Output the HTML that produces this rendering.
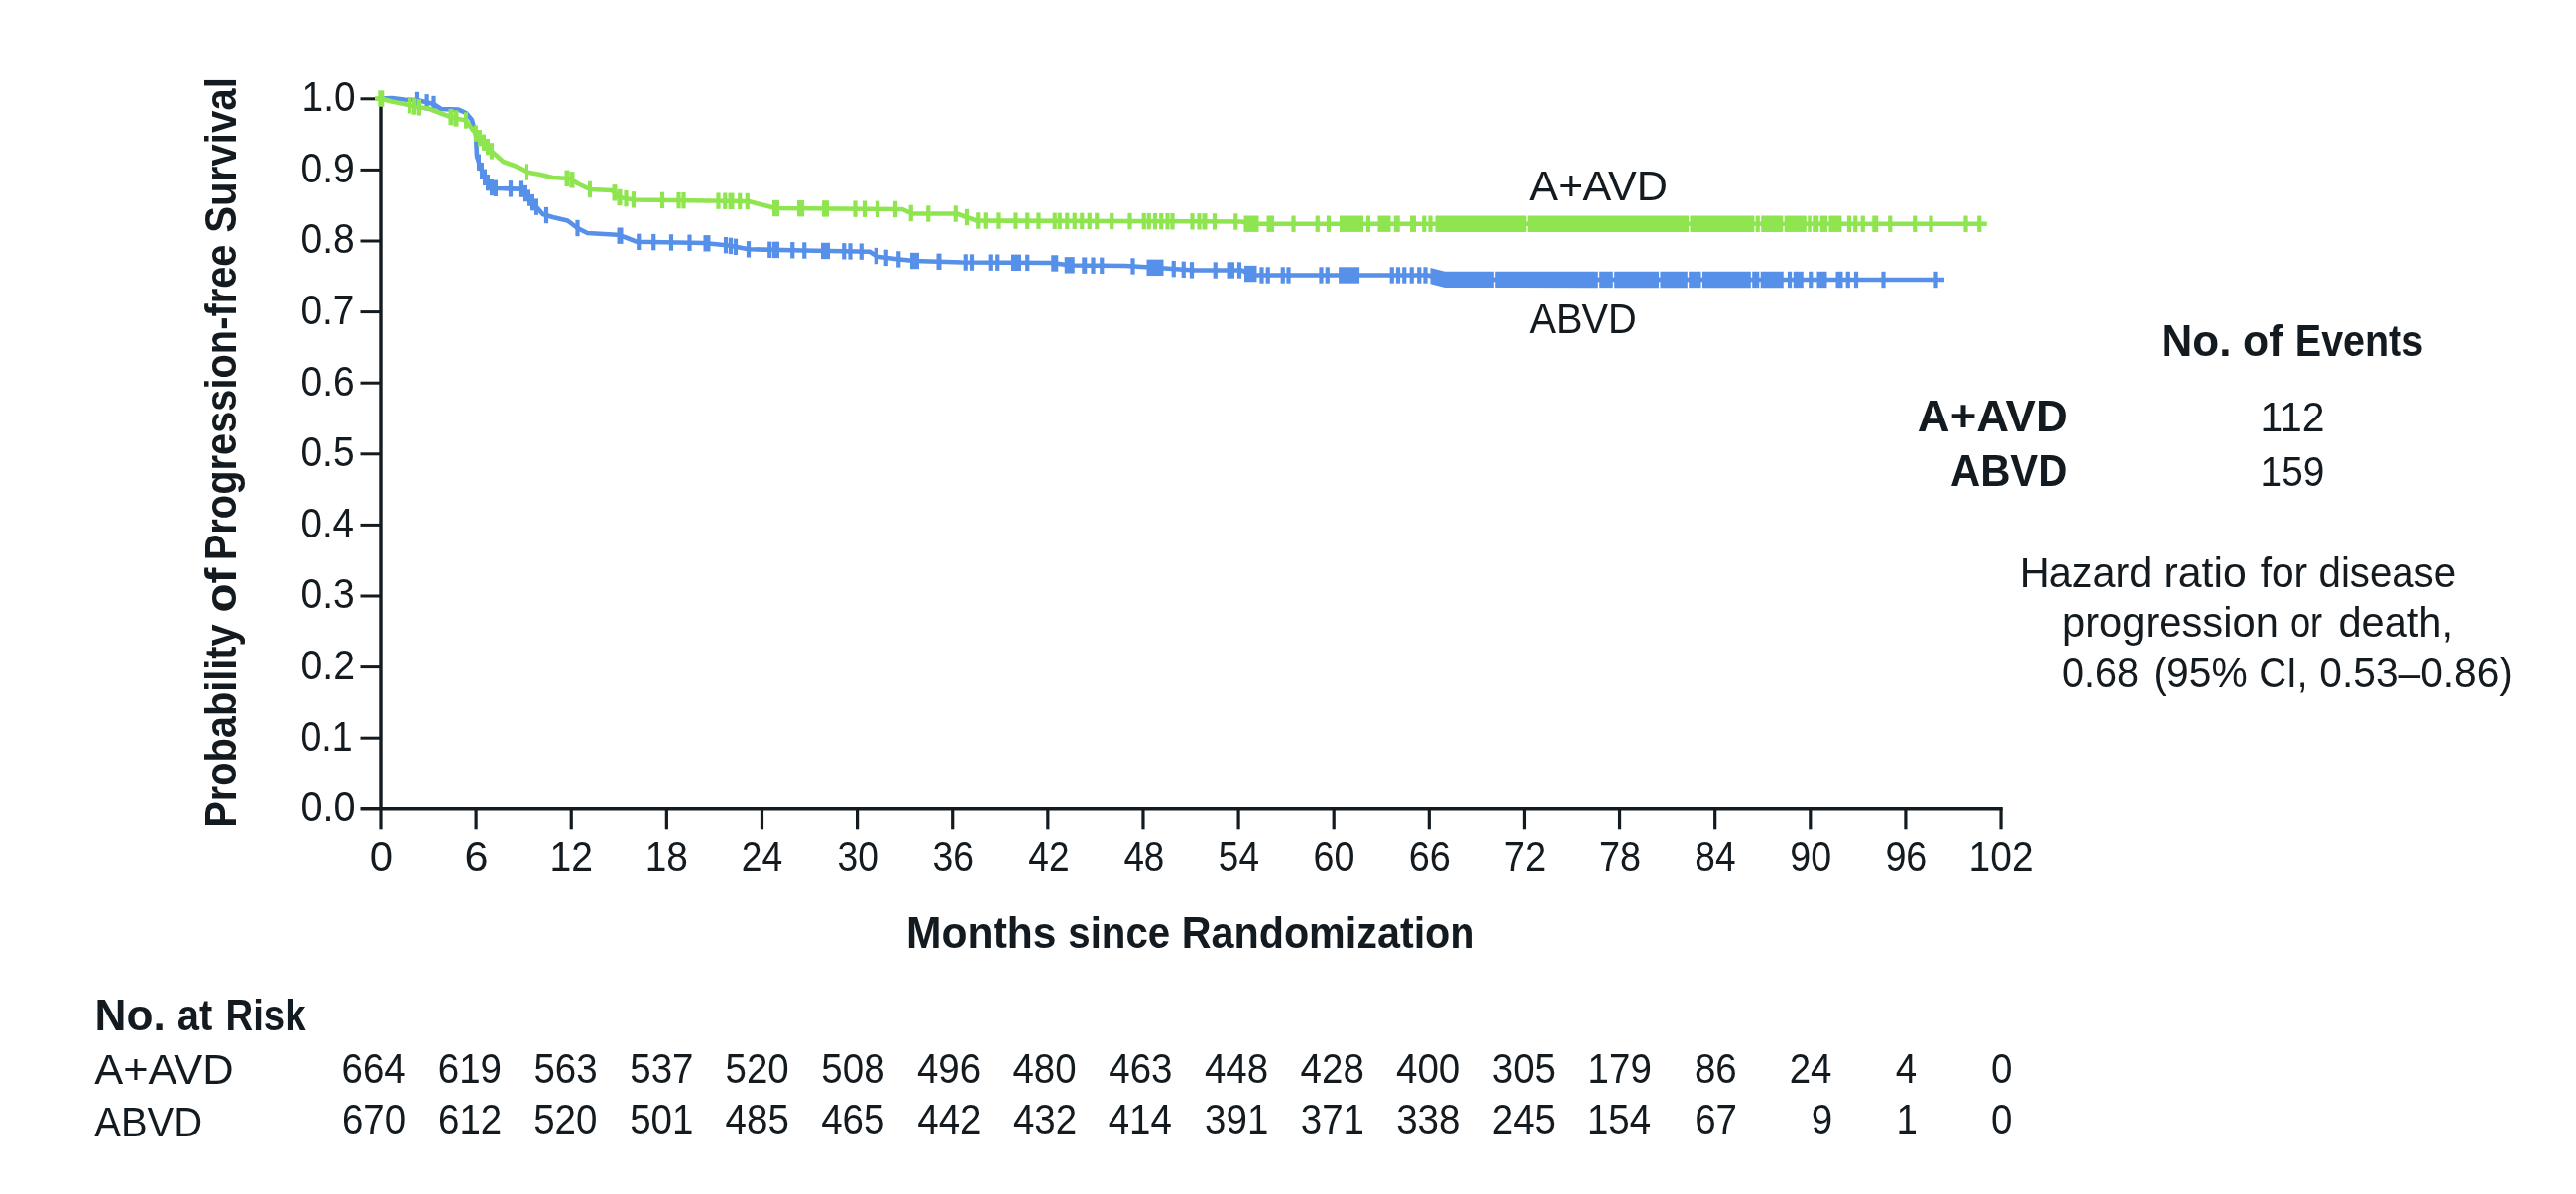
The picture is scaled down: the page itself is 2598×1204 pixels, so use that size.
<!DOCTYPE html>
<html lang="en">
<head>
<meta charset="utf-8">
<title>Progression-free Survival</title>
<style>
html,body{margin:0;padding:0;background:#fff;}
body{width:2598px;height:1204px;overflow:hidden;}
svg{display:block;filter:blur(0.6px);}
svg text{font-family:"Liberation Sans",sans-serif;fill:#131b20;}
</style>
</head>
<body>
<svg width="2598" height="1204" viewBox="0 0 2598 1204">
<rect width="2598" height="1204" fill="#ffffff"/>
<g stroke="#131b20" stroke-width="3.4" fill="none" stroke-linecap="butt">
<path d="M384.0,98.29999999999995 V815.8"/>
<path d="M363.5,815.8 H2019.74"/>
<path d="M363.5,744.20 H384.0" stroke-width="3.0"/>
<path d="M363.5,672.60 H384.0" stroke-width="3.0"/>
<path d="M363.5,601.00 H384.0" stroke-width="3.0"/>
<path d="M363.5,529.40 H384.0" stroke-width="3.0"/>
<path d="M363.5,457.80 H384.0" stroke-width="3.0"/>
<path d="M363.5,386.20 H384.0" stroke-width="3.0"/>
<path d="M363.5,314.60 H384.0" stroke-width="3.0"/>
<path d="M363.5,243.00 H384.0" stroke-width="3.0"/>
<path d="M363.5,171.40 H384.0" stroke-width="3.0"/>
<path d="M363.5,99.80 H384.0" stroke-width="3.0"/>
<path d="M384.00,815.8 V836.3" stroke-width="3.2"/>
<path d="M480.12,815.8 V836.3" stroke-width="3.2"/>
<path d="M576.24,815.8 V836.3" stroke-width="3.2"/>
<path d="M672.36,815.8 V836.3" stroke-width="3.2"/>
<path d="M768.48,815.8 V836.3" stroke-width="3.2"/>
<path d="M864.60,815.8 V836.3" stroke-width="3.2"/>
<path d="M960.72,815.8 V836.3" stroke-width="3.2"/>
<path d="M1056.84,815.8 V836.3" stroke-width="3.2"/>
<path d="M1152.96,815.8 V836.3" stroke-width="3.2"/>
<path d="M1249.08,815.8 V836.3" stroke-width="3.2"/>
<path d="M1345.20,815.8 V836.3" stroke-width="3.2"/>
<path d="M1441.32,815.8 V836.3" stroke-width="3.2"/>
<path d="M1537.44,815.8 V836.3" stroke-width="3.2"/>
<path d="M1633.56,815.8 V836.3" stroke-width="3.2"/>
<path d="M1729.68,815.8 V836.3" stroke-width="3.2"/>
<path d="M1825.80,815.8 V836.3" stroke-width="3.2"/>
<path d="M1921.92,815.8 V836.3" stroke-width="3.2"/>
<path d="M2018.04,815.8 V836.3" stroke-width="3.2"/>
</g>
<text x="303.42" y="828.10" font-size="42" textLength="55.08" lengthAdjust="spacingAndGlyphs">0.0</text>
<text x="303.50" y="756.50" font-size="42" textLength="52.09" lengthAdjust="spacingAndGlyphs">0.1</text>
<text x="303.43" y="684.90" font-size="42" textLength="54.54" lengthAdjust="spacingAndGlyphs">0.2</text>
<text x="303.44" y="613.30" font-size="42" textLength="54.23" lengthAdjust="spacingAndGlyphs">0.3</text>
<text x="303.46" y="541.70" font-size="42" textLength="53.61" lengthAdjust="spacingAndGlyphs">0.4</text>
<text x="303.44" y="470.10" font-size="42" textLength="54.12" lengthAdjust="spacingAndGlyphs">0.5</text>
<text x="303.44" y="398.50" font-size="42" textLength="54.23" lengthAdjust="spacingAndGlyphs">0.6</text>
<text x="303.45" y="326.90" font-size="42" textLength="54.00" lengthAdjust="spacingAndGlyphs">0.7</text>
<text x="303.44" y="255.30" font-size="42" textLength="54.23" lengthAdjust="spacingAndGlyphs">0.8</text>
<text x="303.44" y="183.70" font-size="42" textLength="54.33" lengthAdjust="spacingAndGlyphs">0.9</text>
<text x="304.59" y="112.10" font-size="42" textLength="53.87" lengthAdjust="spacingAndGlyphs">1.0</text>
<text x="372.82" y="878.30" font-size="42" textLength="23.30" lengthAdjust="spacingAndGlyphs">0</text>
<text x="468.46" y="878.30" font-size="42" textLength="24.05" lengthAdjust="spacingAndGlyphs">6</text>
<text x="554.56" y="878.30" font-size="42" textLength="43.48" lengthAdjust="spacingAndGlyphs">12</text>
<text x="650.70" y="878.30" font-size="42" textLength="43.15" lengthAdjust="spacingAndGlyphs">18</text>
<text x="747.87" y="878.30" font-size="42" textLength="41.48" lengthAdjust="spacingAndGlyphs">24</text>
<text x="844.46" y="878.30" font-size="42" textLength="41.38" lengthAdjust="spacingAndGlyphs">30</text>
<text x="940.57" y="878.30" font-size="42" textLength="41.58" lengthAdjust="spacingAndGlyphs">36</text>
<text x="1037.26" y="878.30" font-size="42" textLength="41.28" lengthAdjust="spacingAndGlyphs">42</text>
<text x="1133.38" y="878.30" font-size="42" textLength="40.98" lengthAdjust="spacingAndGlyphs">48</text>
<text x="1228.85" y="878.30" font-size="42" textLength="41.08" lengthAdjust="spacingAndGlyphs">54</text>
<text x="1324.57" y="878.30" font-size="42" textLength="41.88" lengthAdjust="spacingAndGlyphs">60</text>
<text x="1420.68" y="878.30" font-size="42" textLength="42.09" lengthAdjust="spacingAndGlyphs">66</text>
<text x="1516.78" y="878.30" font-size="42" textLength="42.40" lengthAdjust="spacingAndGlyphs">72</text>
<text x="1612.92" y="878.30" font-size="42" textLength="42.09" lengthAdjust="spacingAndGlyphs">78</text>
<text x="1709.36" y="878.30" font-size="42" textLength="41.18" lengthAdjust="spacingAndGlyphs">84</text>
<text x="1805.27" y="878.30" font-size="42" textLength="41.78" lengthAdjust="spacingAndGlyphs">90</text>
<text x="1901.38" y="878.30" font-size="42" textLength="41.99" lengthAdjust="spacingAndGlyphs">96</text>
<text x="1985.62" y="878.30" font-size="42" textLength="64.90" lengthAdjust="spacingAndGlyphs">102</text>
<text y="956.30" font-size="44" font-weight="700"><tspan x="914.12" textLength="151.43" lengthAdjust="spacingAndGlyphs">Months</tspan> <tspan x="1077.34" textLength="102.80" lengthAdjust="spacingAndGlyphs">since</tspan> <tspan x="1191.71" textLength="295.83" lengthAdjust="spacingAndGlyphs">Randomization</tspan></text>
<text y="0.00" font-size="44" font-weight="700" transform="translate(238.0,832) rotate(-90)"><tspan x="-2.68" textLength="205.39" lengthAdjust="spacingAndGlyphs">Probability</tspan> <tspan x="214.40" textLength="44.95" lengthAdjust="spacingAndGlyphs">of</tspan> <tspan x="266.81" textLength="318.69" lengthAdjust="spacingAndGlyphs">Progression-free</tspan> <tspan x="597.29" textLength="156.57" lengthAdjust="spacingAndGlyphs">Survival</tspan></text>
<path d="M384.0,99.5 L395.0,99.0 L407.5,100.5 L421.0,101.0 L437.5,105.0 L445.0,110.0 L462.5,110.6 L470.0,114.0 L476.0,121.0 L480.0,136.0 L481.0,157.5 L485.0,170.0 L490.0,181.0 L495.0,188.8 L501.0,190.0 L525.0,190.6 L532.5,199.0 L540.0,207.5 L547.5,216.0 L557.5,219.0 L572.5,222.5 L582.5,230.0 L592.5,235.0 L622.5,236.8 L630.0,239.0 L642.5,243.8 L710.0,245.0 L735.0,247.5 L755.0,251.3 L810.0,252.5 L877.0,253.8 L885.0,258.8 L905.0,261.3 L922.0,263.0 L970.0,264.5 L1060.0,265.0 L1080.0,267.5 L1135.0,268.0 L1160.0,269.5 L1204.0,272.5 L1252.0,272.5 L1265.0,277.5 L1440.0,277.5 L1457.0,281.9 L1961.0,282.0" fill="none" stroke="#5690e8" stroke-width="4.6" stroke-linejoin="round" stroke-linecap="butt"/>
<g fill="#5690e8"><rect x="418.90" y="92.80" width="4.20" height="16.4"/><rect x="428.50" y="95.13" width="4.20" height="16.4"/><rect x="435.40" y="96.80" width="4.20" height="16.4"/><rect x="478.00" y="127.80" width="4.00" height="16.4"/><rect x="481.00" y="155.55" width="4.00" height="16.4"/><rect x="484.00" y="164.00" width="4.00" height="16.4"/><rect x="487.00" y="170.60" width="4.00" height="16.4"/><rect x="490.00" y="175.92" width="4.00" height="16.4"/><rect x="494.00" y="180.80" width="4.00" height="16.4"/><rect x="498.00" y="181.60" width="4.00" height="16.4"/><rect x="512.90" y="182.15" width="4.20" height="16.4"/><rect x="522.90" y="182.40" width="4.20" height="16.4"/><rect x="527.00" y="186.88" width="4.00" height="16.4"/><rect x="531.00" y="191.37" width="4.00" height="16.4"/><rect x="535.00" y="195.90" width="4.00" height="16.4"/><rect x="539.00" y="200.43" width="4.00" height="16.4"/><rect x="548.90" y="208.85" width="4.20" height="16.4"/><rect x="580.40" y="221.80" width="4.20" height="16.4"/><rect x="622.50" y="229.48" width="6.00" height="16.4"/><rect x="642.15" y="235.63" width="4.20" height="16.4"/><rect x="657.15" y="235.90" width="4.20" height="16.4"/><rect x="674.90" y="236.21" width="4.20" height="16.4"/><rect x="693.40" y="236.54" width="4.20" height="16.4"/><rect x="709.50" y="237.10" width="7.00" height="16.4"/><rect x="729.90" y="239.00" width="4.20" height="16.4"/><rect x="734.90" y="239.68" width="4.20" height="16.4"/><rect x="739.90" y="240.63" width="4.20" height="16.4"/><rect x="752.90" y="243.10" width="4.20" height="16.4"/><rect x="774.15" y="243.56" width="4.20" height="16.4"/><rect x="779.00" y="243.70" width="7.00" height="16.4"/><rect x="797.15" y="244.07" width="4.20" height="16.4"/><rect x="809.15" y="244.32" width="4.20" height="16.4"/><rect x="828.00" y="244.74" width="9.00" height="16.4"/><rect x="849.15" y="245.10" width="4.20" height="16.4"/><rect x="855.40" y="245.22" width="4.20" height="16.4"/><rect x="866.65" y="245.44" width="4.20" height="16.4"/><rect x="881.65" y="249.82" width="4.20" height="16.4"/><rect x="891.65" y="251.69" width="4.20" height="16.4"/><rect x="904.15" y="253.23" width="4.20" height="16.4"/><rect x="918.00" y="254.82" width="9.00" height="16.4"/><rect x="944.50" y="255.58" width="5.00" height="16.4"/><rect x="971.65" y="256.32" width="4.20" height="16.4"/><rect x="977.90" y="256.36" width="4.20" height="16.4"/><rect x="996.65" y="256.46" width="4.20" height="16.4"/><rect x="1004.15" y="256.50" width="4.20" height="16.4"/><rect x="1020.00" y="256.61" width="10.00" height="16.4"/><rect x="1034.15" y="256.67" width="4.20" height="16.4"/><rect x="1060.25" y="257.27" width="7.00" height="16.4"/><rect x="1073.75" y="259.14" width="10.00" height="16.4"/><rect x="1091.25" y="259.43" width="5.00" height="16.4"/><rect x="1100.40" y="259.50" width="4.20" height="16.4"/><rect x="1109.15" y="259.58" width="4.20" height="16.4"/><rect x="1140.40" y="260.25" width="4.20" height="16.4"/><rect x="1156.50" y="261.64" width="17.00" height="16.4"/><rect x="1181.65" y="262.92" width="4.20" height="16.4"/><rect x="1191.65" y="263.60" width="4.20" height="16.4"/><rect x="1199.90" y="264.16" width="4.20" height="16.4"/><rect x="1223.65" y="264.30" width="4.20" height="16.4"/><rect x="1237.50" y="264.30" width="7.50" height="16.4"/><rect x="1247.90" y="264.30" width="4.20" height="16.4"/><rect x="1255.00" y="267.86" width="12.50" height="16.4"/><rect x="1270.40" y="269.30" width="4.20" height="16.4"/><rect x="1276.65" y="269.30" width="4.20" height="16.4"/><rect x="1291.65" y="269.30" width="4.20" height="16.4"/><rect x="1297.40" y="269.30" width="4.20" height="16.4"/><rect x="1330.40" y="269.30" width="4.20" height="16.4"/><rect x="1336.65" y="269.30" width="4.20" height="16.4"/><rect x="1350.10" y="269.30" width="21.00" height="16.4"/><rect x="1401.65" y="269.30" width="4.20" height="16.4"/><rect x="1407.90" y="269.30" width="4.20" height="16.4"/><rect x="1414.15" y="269.30" width="4.20" height="16.4"/><rect x="1421.65" y="269.30" width="4.20" height="16.4"/><rect x="1429.15" y="269.30" width="4.20" height="16.4"/><rect x="1435.40" y="269.30" width="4.20" height="16.4"/><rect x="1802.90" y="273.77" width="4.20" height="16.4"/><rect x="1808.75" y="273.77" width="10.00" height="16.4"/><rect x="1824.15" y="273.77" width="4.20" height="16.4"/><rect x="1832.50" y="273.78" width="10.00" height="16.4"/><rect x="1851.50" y="273.78" width="7.00" height="16.4"/><rect x="1861.65" y="273.78" width="4.20" height="16.4"/><rect x="1869.90" y="273.78" width="4.20" height="16.4"/><rect x="1897.40" y="273.79" width="4.20" height="16.4"/><rect x="1950.40" y="273.80" width="4.20" height="16.4"/><polygon points="1442.50,269.95 1457.00,273.70 1506.80,273.71 1506.80,290.11 1457.00,290.10 1442.50,286.35"/><polygon points="1508.20,273.71 1611.80,273.73 1611.80,290.13 1508.20,290.11"/><polygon points="1613.20,273.73 1626.80,273.73 1626.80,290.13 1613.20,290.13"/><polygon points="1628.20,273.73 1673.05,273.74 1673.05,290.14 1628.20,290.13"/><polygon points="1674.45,273.74 1701.80,273.75 1701.80,290.15 1674.45,290.14"/><polygon points="1703.20,273.75 1715.55,273.75 1715.55,290.15 1703.20,290.15"/><polygon points="1716.95,273.75 1765.80,273.76 1765.80,290.16 1716.95,290.15"/><polygon points="1767.20,273.76 1774.30,273.76 1774.30,290.16 1767.20,290.16"/><polygon points="1775.70,273.76 1798.75,273.77 1798.75,290.17 1775.70,290.16"/></g>
<path d="M384.0,99.5 L395.0,102.5 L407.5,105.0 L420.0,108.0 L432.5,109.5 L445.0,114.5 L457.5,119.0 L470.0,121.5 L476.0,130.0 L482.5,137.5 L490.0,146.0 L497.5,154.0 L507.5,163.0 L520.0,167.5 L531.0,173.5 L545.0,176.0 L557.5,179.0 L575.0,180.0 L582.5,185.0 L595.0,191.0 L617.5,192.0 L625.0,199.0 L640.0,201.5 L715.0,202.5 L755.0,203.0 L782.5,210.0 L910.0,211.0 L920.0,215.5 L965.0,215.5 L985.0,222.5 L1204.0,223.3 L1252.0,223.5 L1262.0,225.7 L2003.8,225.8" fill="none" stroke="#8fe54f" stroke-width="4.6" stroke-linejoin="round" stroke-linecap="butt"/>
<g fill="#8fe54f"><rect x="381.30" y="91.38" width="6.00" height="16.4"/><rect x="411.00" y="98.12" width="4.00" height="16.4"/><rect x="415.50" y="99.32" width="5.00" height="16.4"/><rect x="421.00" y="100.16" width="4.00" height="16.4"/><rect x="452.50" y="109.90" width="5.00" height="16.4"/><rect x="457.50" y="111.30" width="5.00" height="16.4"/><rect x="468.00" y="113.30" width="4.00" height="16.4"/><rect x="478.00" y="126.42" width="4.00" height="16.4"/><rect x="482.00" y="131.00" width="4.00" height="16.4"/><rect x="486.00" y="135.53" width="4.00" height="16.4"/><rect x="490.00" y="139.93" width="4.00" height="16.4"/><rect x="494.00" y="144.20" width="4.00" height="16.4"/><rect x="529.00" y="165.30" width="4.00" height="16.4"/><rect x="569.50" y="171.63" width="5.00" height="16.4"/><rect x="574.50" y="173.13" width="5.00" height="16.4"/><rect x="593.00" y="182.80" width="4.00" height="16.4"/><rect x="617.50" y="186.13" width="5.00" height="16.4"/><rect x="622.50" y="190.80" width="5.00" height="16.4"/><rect x="629.40" y="191.88" width="4.20" height="16.4"/><rect x="636.90" y="193.13" width="4.20" height="16.4"/><rect x="665.90" y="193.67" width="4.20" height="16.4"/><rect x="682.40" y="193.89" width="4.20" height="16.4"/><rect x="687.40" y="193.96" width="4.20" height="16.4"/><rect x="722.40" y="194.42" width="4.20" height="16.4"/><rect x="729.15" y="194.50" width="4.20" height="16.4"/><rect x="734.50" y="194.58" width="6.00" height="16.4"/><rect x="744.15" y="194.69" width="4.20" height="16.4"/><rect x="751.65" y="194.78" width="4.20" height="16.4"/><rect x="779.00" y="201.80" width="7.00" height="16.4"/><rect x="804.00" y="202.00" width="7.00" height="16.4"/><rect x="829.00" y="202.19" width="7.00" height="16.4"/><rect x="860.40" y="202.43" width="4.20" height="16.4"/><rect x="869.90" y="202.50" width="4.20" height="16.4"/><rect x="882.90" y="202.60" width="4.20" height="16.4"/><rect x="900.90" y="202.75" width="4.20" height="16.4"/><rect x="916.65" y="206.74" width="4.20" height="16.4"/><rect x="934.15" y="207.30" width="4.20" height="16.4"/><rect x="961.65" y="207.30" width="4.20" height="16.4"/><rect x="972.90" y="210.80" width="4.20" height="16.4"/><rect x="984.15" y="214.30" width="4.20" height="16.4"/><rect x="991.65" y="214.33" width="4.20" height="16.4"/><rect x="1005.40" y="214.38" width="4.20" height="16.4"/><rect x="1022.40" y="214.44" width="4.20" height="16.4"/><rect x="1034.15" y="214.49" width="4.20" height="16.4"/><rect x="1045.40" y="214.53" width="4.20" height="16.4"/><rect x="1061.65" y="214.59" width="4.20" height="16.4"/><rect x="1066.65" y="214.61" width="4.20" height="16.4"/><rect x="1074.15" y="214.63" width="4.20" height="16.4"/><rect x="1081.65" y="214.66" width="4.20" height="16.4"/><rect x="1089.15" y="214.69" width="4.20" height="16.4"/><rect x="1096.65" y="214.72" width="4.20" height="16.4"/><rect x="1104.15" y="214.74" width="4.20" height="16.4"/><rect x="1119.15" y="214.80" width="4.20" height="16.4"/><rect x="1137.40" y="214.86" width="4.20" height="16.4"/><rect x="1151.65" y="214.92" width="4.20" height="16.4"/><rect x="1156.65" y="214.93" width="4.20" height="16.4"/><rect x="1162.90" y="214.96" width="4.20" height="16.4"/><rect x="1169.15" y="214.98" width="4.20" height="16.4"/><rect x="1175.40" y="215.00" width="4.20" height="16.4"/><rect x="1180.40" y="215.02" width="4.20" height="16.4"/><rect x="1200.40" y="215.09" width="4.20" height="16.4"/><rect x="1207.40" y="215.12" width="4.20" height="16.4"/><rect x="1212.50" y="215.15" width="5.00" height="16.4"/><rect x="1222.90" y="215.19" width="4.20" height="16.4"/><rect x="1244.15" y="215.28" width="4.20" height="16.4"/><rect x="1254.50" y="217.50" width="15.00" height="16.4"/><rect x="1277.50" y="217.50" width="7.50" height="16.4"/><rect x="1302.40" y="217.50" width="4.20" height="16.4"/><rect x="1326.65" y="217.50" width="4.20" height="16.4"/><rect x="1337.90" y="217.51" width="4.20" height="16.4"/><rect x="1351.00" y="217.51" width="24.00" height="16.4"/><rect x="1377.90" y="217.51" width="4.20" height="16.4"/><rect x="1389.50" y="217.51" width="13.00" height="16.4"/><rect x="1405.75" y="217.51" width="6.00" height="16.4"/><rect x="1422.00" y="217.51" width="6.00" height="16.4"/><rect x="1434.15" y="217.51" width="4.20" height="16.4"/><rect x="1440.40" y="217.51" width="4.20" height="16.4"/><rect x="1862.90" y="217.54" width="4.20" height="16.4"/><rect x="1869.15" y="217.54" width="4.20" height="16.4"/><rect x="1876.65" y="217.54" width="4.20" height="16.4"/><rect x="1888.25" y="217.54" width="6.00" height="16.4"/><rect x="1904.15" y="217.54" width="4.20" height="16.4"/><rect x="1929.15" y="217.55" width="4.20" height="16.4"/><rect x="1945.40" y="217.55" width="4.20" height="16.4"/><rect x="1980.40" y="217.55" width="4.20" height="16.4"/><rect x="1994.15" y="217.55" width="4.20" height="16.4"/><polygon points="1447.50,217.51 1539.30,217.52 1539.30,233.92 1447.50,233.91"/><polygon points="1540.70,217.52 1703.05,217.53 1703.05,233.93 1540.70,233.92"/><polygon points="1704.45,217.53 1769.30,217.53 1769.30,233.93 1704.45,233.93"/><polygon points="1770.70,217.53 1774.80,217.53 1774.80,233.93 1770.70,233.93"/><polygon points="1776.20,217.53 1798.30,217.54 1798.30,233.94 1776.20,233.93"/><polygon points="1799.70,217.54 1821.80,217.54 1821.80,233.94 1799.70,233.94"/><polygon points="1823.20,217.54 1826.80,217.54 1826.80,233.94 1823.20,233.94"/><polygon points="1828.20,217.54 1834.30,217.54 1834.30,233.94 1828.20,233.94"/><polygon points="1835.70,217.54 1843.05,217.54 1843.05,233.94 1835.70,233.94"/><polygon points="1844.45,217.54 1857.50,217.54 1857.50,233.94 1844.45,233.94"/></g>
<rect x="378" y="97.2" width="8" height="4.8" fill="#8fe54f"/>
<text x="1542.39" y="201.80" font-size="42" textLength="139.68" lengthAdjust="spacingAndGlyphs">A+AVD</text>
<text x="1542.40" y="336.00" font-size="42" textLength="108.32" lengthAdjust="spacingAndGlyphs">ABVD</text>
<text y="359.00" font-size="44" font-weight="700"><tspan x="2179.53" textLength="70.99" lengthAdjust="spacingAndGlyphs">No.</tspan> <tspan x="2262.04" textLength="40.41" lengthAdjust="spacingAndGlyphs">of</tspan> <tspan x="2314.84" textLength="129.31" lengthAdjust="spacingAndGlyphs">Events</tspan></text>
<text x="1933.86" y="435.00" font-size="44" font-weight="700" textLength="151.85" lengthAdjust="spacingAndGlyphs">A+AVD</text>
<text x="1966.95" y="489.50" font-size="44" font-weight="700" textLength="118.51" lengthAdjust="spacingAndGlyphs">ABVD</text>
<text x="2279.43" y="435.00" font-size="42" textLength="65.18" lengthAdjust="spacingAndGlyphs">112</text>
<text x="2279.59" y="490.00" font-size="42" textLength="64.69" lengthAdjust="spacingAndGlyphs">159</text>
<text y="592.00" font-size="42"><tspan x="2036.83" textLength="133.56" lengthAdjust="spacingAndGlyphs">Hazard</tspan> <tspan x="2182.47" textLength="83.26" lengthAdjust="spacingAndGlyphs">ratio</tspan> <tspan x="2279.64" textLength="47.45" lengthAdjust="spacingAndGlyphs">for</tspan> <tspan x="2338.54" textLength="138.49" lengthAdjust="spacingAndGlyphs">disease</tspan></text>
<text y="642.00" font-size="42"><tspan x="2080.04" textLength="217.82" lengthAdjust="spacingAndGlyphs">progression</tspan> <tspan x="2309.96" textLength="32.14" lengthAdjust="spacingAndGlyphs">or</tspan> <tspan x="2358.48" textLength="115.52" lengthAdjust="spacingAndGlyphs">death,</tspan></text>
<text y="693.20" font-size="42"><tspan x="2079.92" textLength="77.07" lengthAdjust="spacingAndGlyphs">0.68</tspan> <tspan x="2171.45" textLength="95.21" lengthAdjust="spacingAndGlyphs">(95%</tspan> <tspan x="2278.33" textLength="49.15" lengthAdjust="spacingAndGlyphs">CI,</tspan> <tspan x="2339.37" textLength="194.54" lengthAdjust="spacingAndGlyphs">0.53–0.86)</tspan></text>
<text y="1039.10" font-size="44" font-weight="700"><tspan x="95.51" textLength="71.26" lengthAdjust="spacingAndGlyphs">No.</tspan> <tspan x="178.80" textLength="35.51" lengthAdjust="spacingAndGlyphs">at</tspan> <tspan x="227.41" textLength="81.09" lengthAdjust="spacingAndGlyphs">Risk</tspan></text>
<text x="95.29" y="1092.50" font-size="42" textLength="140.39" lengthAdjust="spacingAndGlyphs">A+AVD</text>
<text x="95.30" y="1146.00" font-size="42" textLength="108.82" lengthAdjust="spacingAndGlyphs">ABVD</text>
<text x="344.50" y="1092.20" font-size="42" textLength="64.20" lengthAdjust="spacingAndGlyphs">664</text>
<text x="344.89" y="1143.20" font-size="42" textLength="64.20" lengthAdjust="spacingAndGlyphs">670</text>
<text x="441.82" y="1092.20" font-size="42" textLength="64.20" lengthAdjust="spacingAndGlyphs">619</text>
<text x="442.02" y="1143.20" font-size="42" textLength="64.20" lengthAdjust="spacingAndGlyphs">612</text>
<text x="538.38" y="1092.20" font-size="42" textLength="64.20" lengthAdjust="spacingAndGlyphs">563</text>
<text x="538.19" y="1143.20" font-size="42" textLength="64.20" lengthAdjust="spacingAndGlyphs">520</text>
<text x="635.32" y="1092.20" font-size="42" textLength="64.20" lengthAdjust="spacingAndGlyphs">537</text>
<text x="635.22" y="1143.20" font-size="42" textLength="64.20" lengthAdjust="spacingAndGlyphs">501</text>
<text x="731.49" y="1092.20" font-size="42" textLength="64.20" lengthAdjust="spacingAndGlyphs">520</text>
<text x="731.58" y="1143.20" font-size="42" textLength="64.20" lengthAdjust="spacingAndGlyphs">485</text>
<text x="828.33" y="1092.20" font-size="42" textLength="64.20" lengthAdjust="spacingAndGlyphs">508</text>
<text x="828.23" y="1143.20" font-size="42" textLength="64.20" lengthAdjust="spacingAndGlyphs">465</text>
<text x="924.98" y="1092.20" font-size="42" textLength="64.20" lengthAdjust="spacingAndGlyphs">496</text>
<text x="925.27" y="1143.20" font-size="42" textLength="64.20" lengthAdjust="spacingAndGlyphs">442</text>
<text x="1021.44" y="1092.20" font-size="42" textLength="64.20" lengthAdjust="spacingAndGlyphs">480</text>
<text x="1021.92" y="1143.20" font-size="42" textLength="64.20" lengthAdjust="spacingAndGlyphs">432</text>
<text x="1118.28" y="1092.20" font-size="42" textLength="64.20" lengthAdjust="spacingAndGlyphs">463</text>
<text x="1117.70" y="1143.20" font-size="42" textLength="64.20" lengthAdjust="spacingAndGlyphs">414</text>
<text x="1214.93" y="1092.20" font-size="42" textLength="64.20" lengthAdjust="spacingAndGlyphs">448</text>
<text x="1215.12" y="1143.20" font-size="42" textLength="64.20" lengthAdjust="spacingAndGlyphs">391</text>
<text x="1311.58" y="1092.20" font-size="42" textLength="64.20" lengthAdjust="spacingAndGlyphs">428</text>
<text x="1311.77" y="1143.20" font-size="42" textLength="64.20" lengthAdjust="spacingAndGlyphs">371</text>
<text x="1408.04" y="1092.20" font-size="42" textLength="64.20" lengthAdjust="spacingAndGlyphs">400</text>
<text x="1408.23" y="1143.20" font-size="42" textLength="64.20" lengthAdjust="spacingAndGlyphs">338</text>
<text x="1504.78" y="1092.20" font-size="42" textLength="64.20" lengthAdjust="spacingAndGlyphs">305</text>
<text x="1504.78" y="1143.20" font-size="42" textLength="64.20" lengthAdjust="spacingAndGlyphs">245</text>
<text x="1601.62" y="1092.20" font-size="42" textLength="64.20" lengthAdjust="spacingAndGlyphs">179</text>
<text x="1600.95" y="1143.20" font-size="42" textLength="64.20" lengthAdjust="spacingAndGlyphs">154</text>
<text x="1708.93" y="1092.20" font-size="42" textLength="42.80" lengthAdjust="spacingAndGlyphs">86</text>
<text x="1709.22" y="1143.20" font-size="42" textLength="42.80" lengthAdjust="spacingAndGlyphs">67</text>
<text x="1804.65" y="1092.20" font-size="42" textLength="42.80" lengthAdjust="spacingAndGlyphs">24</text>
<text x="1826.68" y="1143.20" font-size="42" textLength="21.40" lengthAdjust="spacingAndGlyphs">9</text>
<text x="1911.70" y="1092.20" font-size="42" textLength="21.40" lengthAdjust="spacingAndGlyphs">4</text>
<text x="1912.47" y="1143.20" font-size="42" textLength="21.40" lengthAdjust="spacingAndGlyphs">1</text>
<text x="2008.09" y="1092.20" font-size="42" textLength="21.40" lengthAdjust="spacingAndGlyphs">0</text>
<text x="2008.09" y="1143.20" font-size="42" textLength="21.40" lengthAdjust="spacingAndGlyphs">0</text>
</svg>
</body>
</html>
